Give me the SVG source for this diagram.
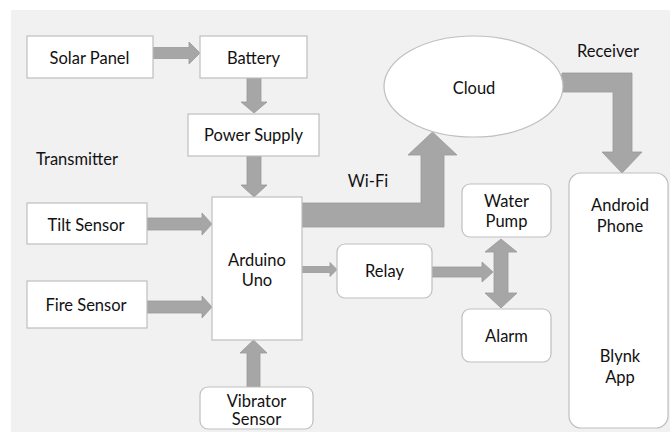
<svg xmlns="http://www.w3.org/2000/svg" width="670" height="432" viewBox="0 0 670 432">
<style>
.box{fill:#fff;stroke:#bfbfbf;stroke-width:1.2}
.arr{fill:#a6a6a6;stroke:#999;stroke-width:0.8}
text{font-family:Lato,"Open Sans","Liberation Sans",sans-serif;font-size:16.5px;fill:#111;text-anchor:middle}
</style>
<rect x="0" y="0" width="670" height="432" fill="#fff"/>
<rect x="11" y="10" width="659" height="422" fill="#f1f1f1"/>
<text x="77" y="165">Transmitter</text>
<text x="368" y="187">Wi-Fi</text>
<text x="608" y="57">Receiver</text>
<g id="connectors">
<polygon class="arr" points="153,47.5 189,47.5 189,42 200,53 189,64 189,58.5 153,58.5"/>
<polygon class="arr" points="247,78 261,78 261,102 267,102 254,113 241,102 247,102"/>
<polygon class="arr" points="247,156 261,156 261,185 267,185 254,197 241,185 247,185"/>
<polygon class="arr" points="147,218 202,218 202,213 212,224 202,235 202,230 147,230"/>
<polygon class="arr" points="147,301 202,301 202,296 212,307 202,318 202,313 147,313"/>
<polygon class="arr" points="247,387 247,353 240,353 253.5,340 267,353 260,353 260,387"/>
<polygon class="arr" points="302,266.5 330,266.5 330,262.5 337,269.5 330,276.5 330,272.5 302,272.5"/>
<polygon class="arr" points="432,267 482,267 482,262 493,272 482,282 482,277 432,277"/>
<polygon class="arr" points="494,252 485,252 501,239 517,252 508,252 508,293 517,293 501,308 485,293 494,293"/>
<polygon class="arr" points="302,203 421,203 421,155 408,155 432.5,132 457,155 444,155 444,227 302,227"/>
<polygon class="arr" points="562,73 632,73 632,152 642,152 622,173 602,152 613,152 613,92 560,92"/>
</g>
<g id="solar-panel"><rect class="box" x="27" y="36" width="126" height="42"/><text x="89.5" y="64">Solar Panel</text></g>
<g id="battery"><rect class="box" x="200" y="36" width="107" height="42"/><text x="253.5" y="64">Battery</text></g>
<g id="power-supply"><rect class="box" x="188" y="114" width="131" height="42"/><text x="253.5" y="140.5">Power Supply</text></g>
<g id="tilt-sensor"><rect class="box" x="27" y="203" width="120" height="41"/><text x="86" y="230.5">Tilt Sensor</text></g>
<g id="fire-sensor"><rect class="box" x="27" y="281" width="120" height="47"/><text x="86" y="311">Fire Sensor</text></g>
<g id="arduino-uno"><rect class="box" x="212" y="197" width="90" height="143"/><text x="257" y="266">Arduino</text><text x="257" y="286">Uno</text></g>
<g id="vibrator-sensor"><rect class="box" x="200" y="387" width="113" height="42" rx="8"/><text x="256.5" y="406.5">Vibrator</text><text x="256.5" y="425">Sensor</text></g>
<g id="relay"><rect class="box" x="337" y="244" width="95" height="54" rx="8"/><text x="384.5" y="277">Relay</text></g>
<g id="water-pump"><rect class="box" x="462" y="184" width="89" height="53" rx="8"/><text x="506.5" y="207">Water</text><text x="506.5" y="226.5">Pump</text></g>
<g id="alarm"><rect class="box" x="462" y="309" width="89" height="53" rx="8"/><text x="506.5" y="341.5">Alarm</text></g>
<g id="cloud"><ellipse class="box" cx="473.5" cy="86.5" rx="89.5" ry="50.5"/><text x="474" y="94">Cloud</text></g>
<g id="android-phone"><rect class="box" x="569" y="173" width="99" height="255" rx="12"/><text x="620" y="210.5">Android</text><text x="620" y="232">Phone</text><text x="620" y="361.5">Blynk</text><text x="620" y="383">App</text></g>
</svg>
